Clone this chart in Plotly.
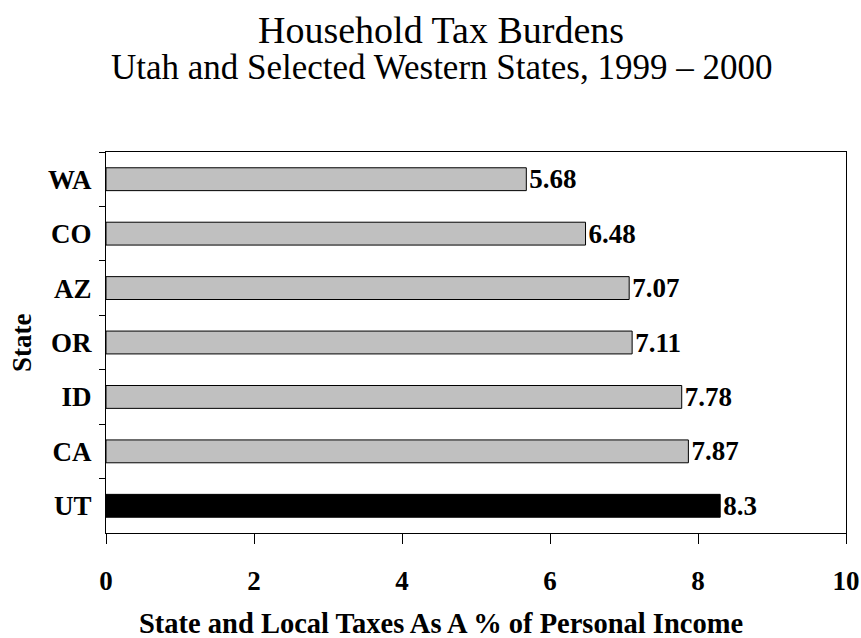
import plotly.graph_objects as go

states = ["WA", "CO", "AZ", "OR", "ID", "CA", "UT"]
values = [5.68, 6.48, 7.07, 7.11, 7.78, 7.87, 8.3]
colors = ["#C0C0C0"] * 6 + ["#000000"]
labels = ["5.68", "6.48", "7.07", "7.11", "7.78", "7.87", "8.3"]

FONT = "Liberation Serif, Times New Roman, serif"
W, H = 861, 638
L, R, T, B = 106, 15, 152, 105
PW, PH = W - L - R, H - T - B


def px_x(x):
    return (x - L) / PW


def px_y(y):
    return (H - B - y) / PH


fig = go.Figure(go.Bar(
    x=values, y=states, orientation="h",
    marker=dict(color=colors, line=dict(color="#000000", width=1)),
    width=0.42,
    text=labels, textposition="outside", cliponaxis=False,
    constraintext="none",
    textfont=dict(family=FONT, size=27, color="#000000", weight="bold"),
))

fig.update_layout(
    width=W, height=H,
    paper_bgcolor="white", plot_bgcolor="white",
    margin=dict(l=L, r=R, t=T, b=B),
    font=dict(family=FONT, color="#000000"),
    showlegend=False,
    annotations=[
        dict(text="Household Tax Burdens", x=px_x(441), y=px_y(30),
             xref="paper", yref="paper", showarrow=False, yanchor="middle",
             font=dict(family=FONT, size=38, color="#000000")),
        dict(text="Utah and Selected Western States, 1999 \u2013 2000",
             x=px_x(441), y=px_y(67), xref="paper", yref="paper",
             showarrow=False, yanchor="middle",
             font=dict(family=FONT, size=35, color="#000000")),
        dict(text="State and Local Taxes As A % of Personal Income",
             x=px_x(441), y=px_y(623), xref="paper", yref="paper",
             showarrow=False, yanchor="middle",
             font=dict(family=FONT, size=28.5, color="#000000", weight="bold")),
        dict(text="State", x=px_x(22), y=px_y(343), xref="paper", yref="paper",
             showarrow=False, textangle=-90, xanchor="center", yanchor="middle",
             font=dict(family=FONT, size=27, color="#000000", weight="bold")),
    ],
)

fig.update_xaxes(
    range=[0, 10], dtick=2, tick0=0, automargin=False,
    showgrid=False, zeroline=False,
    showline=True, linecolor="#000000", linewidth=1, mirror=True,
    ticks="outside", ticklen=10, tickcolor="#000000", ticklabelstandoff=14,
    tickfont=dict(family=FONT, size=27, color="#000000", weight="bold"),
)
fig.update_yaxes(
    autorange="reversed", type="category", automargin=False,
    showgrid=False, zeroline=False,
    showline=True, linecolor="#000000", linewidth=1, mirror=True,
    ticks="outside", ticklen=6, tickcolor="#000000", tickson="boundaries",
    ticklabelstandoff=8,
    tickfont=dict(family=FONT, size=27, color="#000000", weight="bold"),
)

fig.write_html(
    "out.html",
    config={"displayModeBar": False},
    post_script="document.body.style.margin='0';document.body.style.overflow='hidden';",
)
